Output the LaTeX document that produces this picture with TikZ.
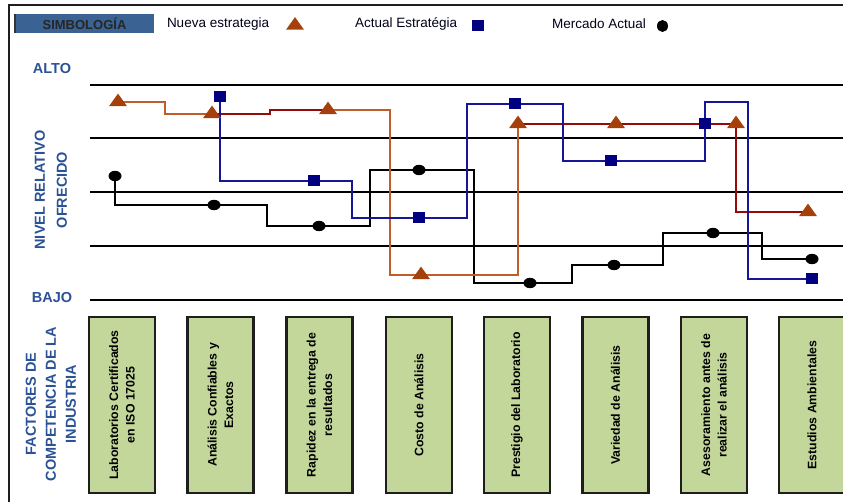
\documentclass[tikz,border=0pt]{standalone}
\usepackage{fontspec}
\setmainfont{Liberation Sans}
\definecolor{legendblue}{RGB}{58,98,146}
\definecolor{axisblue}{RGB}{43,82,150}
\definecolor{boxgreen}{RGB}{196,215,155}
\definecolor{trifill}{RGB}{166,64,10}
\definecolor{nuevaline}{RGB}{192,94,42}
\definecolor{nuevadark}{RGB}{150,10,10}
\definecolor{navymark}{RGB}{0,0,128}
\definecolor{actualline}{RGB}{22,22,150}
\definecolor{framegray}{RGB}{30,30,30}

\tikzset{
  every node/.style={inner sep=0pt, outer sep=0pt},
  legendtext/.style={font=\fontsize{13.5}{15}\selectfont, text=black!90!blue, anchor=west},
  axislabel/.style={font=\fontsize{14.5}{19}\selectfont\bfseries, text=axisblue, align=center},
  factor/.style={rotate=90, draw=framegray, line width=2.2pt, fill=boxgreen,
    minimum width=176pt, minimum height=66pt, align=center,
    font=\fontsize{12.3}{16.5}\selectfont\bfseries},
  gridline/.style={line width=2pt, black},
  nueva/.style={line width=2pt, nuevaline},
  nuevad/.style={line width=2pt, nuevadark},
  actual/.style={line width=2pt, actualline},
  mercado/.style={line width=2pt, black},
  tri/.pic={\fill[trifill] (-9,4.2) -- (9,4.2) -- (0,-8.4) -- cycle;},
  sq/.pic={\fill[navymark] (-6,-5.5) rectangle (6,5.5);},
  dot/.pic={\fill[black] (0,0) ellipse [x radius=6.5, y radius=5.2];},
}

\begin{document}
\begin{tikzpicture}[x=1pt, y=-1pt]
\useasboundingbox (0,0) rectangle (843,502);

% outer frame (top and left edges)
\draw[framegray, line width=2pt] (843,5) -- (9,5) -- (9,502);

% legend
\node[fill=legendblue, minimum width=139pt, minimum height=19pt,
      font=\fontsize{13}{14}\selectfont\bfseries, text=black!85] (simb) at (84.5,23.5) {SIMBOLOGÍA};
\draw[black!80, line width=1.2pt] (simb.north west) -- (simb.south west);
\node[legendtext] (lnueva) at (167,24) {Nueva estrategia};
\pic at (295,25.5) {tri};
\node[legendtext] (lactual) at (355,24) {Actual Estratégia};
\pic at (478,25.5) {sq};
\node[legendtext] (lmerc) at (552,24) {Mercado Actual};
\fill[black] (662.5,26) ellipse [x radius=5.5, y radius=6];

% axis labels
\node[axislabel] (alto) at (52,69) {ALTO};
\node[axislabel] (bajo) at (52,298) {BAJO};
\node[axislabel, rotate=90, font=\fontsize{14.5}{22}\selectfont\bfseries] (nivel) at (51,190) {NIVEL RELATIVO\\OFRECIDO};
\node[axislabel, rotate=90, font=\fontsize{14.5}{20}\selectfont\bfseries] (factores) at (51,404) {FACTORES DE\\COMPETENCIA DE LA\\INDUSTRIA};

% level grid
\foreach \yy in {85,138,192,246,300}
  \draw[gridline] (90,\yy) -- (843,\yy);

% competition factors
\node[factor] (f1) at (122,405) {Laboratorios Certificados\\en ISO 17025};
\node[factor] (f2) at (220.5,405) {Análisis Confiables y\\Exactos};
\node[factor] (f3) at (319.5,405) {Rapidez en la entrega de\\resultados};
\node[factor] (f4) at (419,405) {Costo de Análisis};
\node[factor] (f5) at (517,405) {Prestigio del Laboratorio};
\node[factor] (f6) at (615.5,405) {Variedad de Análisis};
\node[factor] (f7) at (714,405) {Asesoramiento antes de\\realizar el análisis};
\node[factor] (f8) at (812,405) {Estudios Ambientales};

% data points
\coordinate (m1) at (115,176);  \coordinate (m2) at (214,205);
\coordinate (m3) at (319,226);  \coordinate (m4) at (419,170);
\coordinate (m5) at (530,283);  \coordinate (m6) at (614,265);
\coordinate (m7) at (713,233);  \coordinate (m8) at (812,259);
\coordinate (cm2) at (267,226); \coordinate (cm3) at (370,170);
\coordinate (cm4) at (474,283); \coordinate (cm5) at (572,265);
\coordinate (cm6) at (663,233); \coordinate (cm7) at (762,259);

\coordinate (n1) at (118,102);  \coordinate (n2) at (212,114);
\coordinate (n3) at (328,110);  \coordinate (n4) at (421,275);
\coordinate (n5) at (518,124);  \coordinate (n6) at (616,124);
\coordinate (n7) at (736,124);  \coordinate (n8) at (808,212);
\coordinate (cn1) at (165,114); \coordinate (cn2) at (270,110);
\coordinate (cn3) at (390,275);

\coordinate (a1) at (220,97);   \coordinate (a2) at (314,181);
\coordinate (a3) at (419,218);  \coordinate (a4) at (515,104);
\coordinate (a5) at (611,161);  \coordinate (a6) at (705,124);
\coordinate (a7) at (812,279);
\coordinate (ca2) at (352,218); \coordinate (ca3) at (467,104);
\coordinate (ca4) at (563,161); \coordinate (ca6) at (705,102);
\coordinate (ca7) at (748,279);

% Mercado Actual
\draw[mercado] (m1) |- (m2) -| (cm2) -- (m3) -| (cm3) -- (m4) -| (cm4) -- (m5)
  -| (cm5) -- (m6) -| (cm6) -- (m7) -| (cm7) -- (m8);

% Nueva estrategia
\draw[nueva] (n1) -| (cn1) -- (n2);
\draw[nuevad] (n2) -| (cn2) -- (n3);
\draw[nueva] (n3) -| (cn3) -- (n4) -| (n5);
\draw[nuevad] (n5) -- (n6) -- (n7) |- (n8);

% Actual Estrategia
\draw[actual] (a1) |- (a2) -| (ca2) -- (a3) -| (ca3) -- (a4) -| (ca4) -- (a5)
  -| (a6) -- (ca6) -| (ca7) -- (a7);

% markers
\foreach \p in {m1,m2,m3,m4,m5,m6,m7,m8} \pic at (\p) {dot};
\foreach \p in {n1,n2,n3,n4,n5,n6,n7,n8} \pic at (\p) {tri};
\foreach \p in {a1,a2,a3,a4,a5,a6,a7} \pic at (\p) {sq};
\end{tikzpicture}
\end{document}
